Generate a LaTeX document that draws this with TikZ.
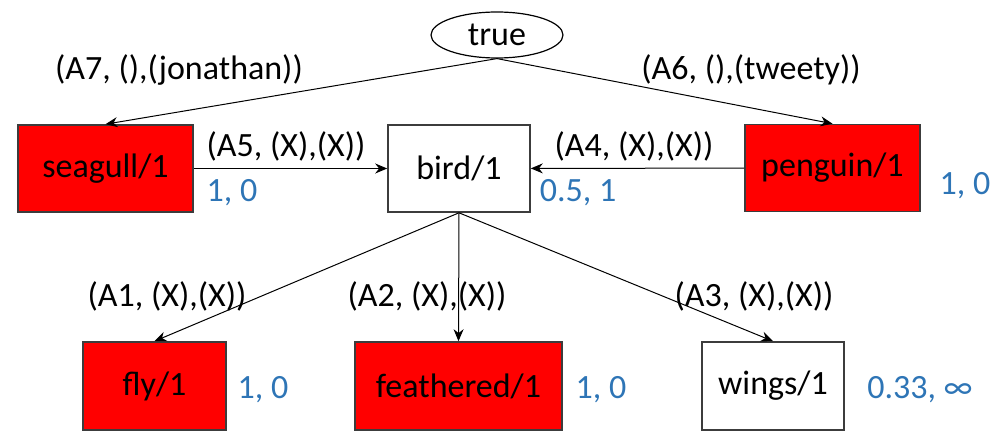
\documentclass[tikz,border=0pt]{standalone}
\usepackage{fontspec}
\setmainfont{Carlito}
\usepackage{tikz}
\usetikzlibrary{shapes,arrows.meta,positioning}
\definecolor{valblue}{RGB}{46,117,182}
\definecolor{boxline}{RGB}{60,60,60}
\tikzstyle{pnode} = [rectangle, draw=boxline, line width=0.8pt, minimum height=43.5pt, inner sep=0pt, font=\fontsize{17}{19}\selectfont]
\tikzstyle{failed} = [pnode, fill=red]
\tikzstyle{tnode} = [ellipse, draw, line width=0.6pt, minimum width=66pt, minimum height=23pt, inner sep=0pt, font=\fontsize{17}{19}\selectfont]
\tikzstyle{lab} = [font=\fontsize{17}{19}\selectfont, inner sep=0pt]
\tikzstyle{val} = [font=\fontsize{17}{19}\selectfont, text=valblue, inner sep=0pt]
\tikzstyle{line} = [draw, line width=0.5pt, -{Stealth[length=6pt,width=5pt]}]

\begin{document}
\begin{tikzpicture}[x=0.5pt, y=-0.5pt]
			\useasboundingbox (0,0) rectangle (997,433);
			\node [tnode] (true) at (497, 35) {true};
			\node [failed, minimum width=87.5pt] (seagull) at (105.5, 168.5) {seagull/1};
			\node [pnode, minimum width=71pt] (bird) at (459, 168.5) {bird/1};
			\node [failed, minimum width=87.5pt] (penguin) at (832.5, 168) {penguin/1};
			\node [failed, minimum width=71.5pt, minimum height=44pt] (fly) at (154.5, 386) {fly/1};
			\node [failed, minimum width=103.5pt, minimum height=44pt] (feathered) at (458.5, 386) {feathered/1};
			\node [pnode, minimum width=71pt, minimum height=44pt] (wings) at (773, 386) {wings/1};

			\node [lab] (a7) at (179, 70) {(A7, (),(jonathan))};
			\node [lab] (a6) at (751, 70) {(A6, (),(tweety))};
			\node [lab] (a5) at (286, 146) {(A5, (X),(X))};
			\node [lab] (a4) at (634, 146) {(A4, (X),(X))};
			\node [lab] (a1) at (167, 296) {(A1, (X),(X))};
			\node [lab] (a2) at (427, 296) {(A2, (X),(X))};
			\node [lab] (a3) at (754, 296) {(A3, (X),(X))};

			\node [val] (vseagull) at (232, 193) {1, 0};
			\node [val] (vbird) at (578, 193) {0.5, 1};
			\node [val] (vpenguin) at (965, 186) {1, 0};
			\node [val] (vfly) at (263, 390) {1, 0};
			\node [val] (vfeathered) at (601, 390) {1, 0};
			\node [val] (vwings) at (920, 390) {0.33, ∞};

			\path [line] (true.south) -- (seagull.north);
			\path [line] (true.south) -- (penguin.north);
			\path [line] (seagull) -- (bird);
			\path [line] (penguin) -- (bird);
			\path [line] (bird.south) -- (fly.north);
			\path [line] (bird.south) -- (feathered.north);
			\path [line] (bird.south) -- (wings.north);
		\end{tikzpicture}
\end{document}
